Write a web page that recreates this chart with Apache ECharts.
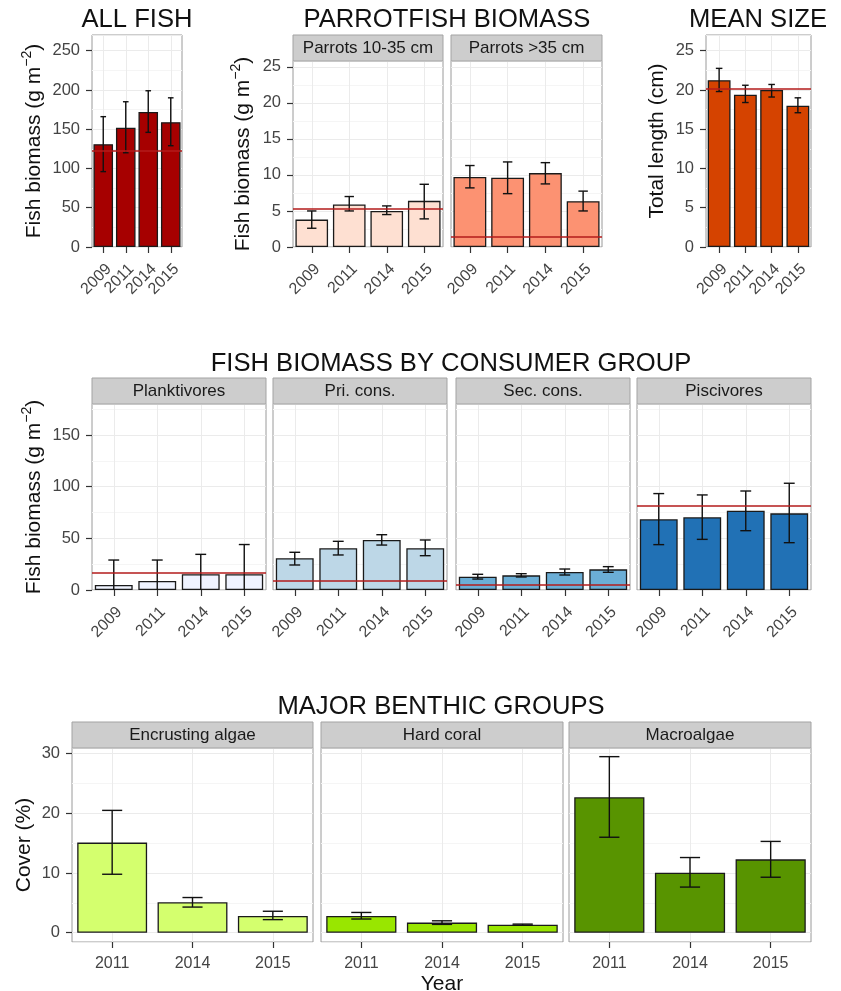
<!DOCTYPE html>
<html>
<head>
<meta charset="utf-8">
<script src="https://cdn.jsdelivr.net/npm/echarts@6/dist/echarts.min.js"></script>
<style>
html,body{margin:0;padding:0;background:#fff;}
#chart{width:841px;height:991px;}
</style>
</head>
<body>
<div id="chart"></div>
<script>
// ---------- DATA ----------
const years4 = ['2009', '2011', '2014', '2015'];
const years3 = ['2011', '2014', '2015'];

// ALL FISH
const allFishMean = [131, 152, 172, 159];
const allFishLo = [96, 120, 146, 129];
const allFishHi = [166, 185, 199, 190];
const allFishRef = 123;

// PARROTFISH BIOMASS
const parrotSmallMean = [3.8, 5.9, 5.0, 6.4];
const parrotSmallLo = [2.6, 5.0, 4.5, 3.9];
const parrotSmallHi = [5.0, 7.0, 5.7, 8.7];
const parrotSmallRef = 5.25;

const parrotLargeMean = [9.7, 9.6, 10.25, 6.35];
const parrotLargeLo = [8.2, 7.4, 8.75, 5.0];
const parrotLargeHi = [11.3, 11.8, 11.7, 7.75];
const parrotLargeRef = 1.45;

// MEAN SIZE
const meanSizeMean = [21.25, 19.4, 20.0, 18.0];
const meanSizeLo = [19.8, 18.4, 19.1, 17.1];
const meanSizeHi = [22.75, 20.6, 20.7, 19.0];
const meanSizeRef = 20.15;

// FISH BIOMASS BY CONSUMER GROUP
const planktMean = [4.8, 8.7, 15.2, 15.2];
const planktLo = [-19, -12, -4, -14];
const planktHi = [29, 29, 34.5, 44];
const planktRef = 16.8;

const priMean = [30.7, 40.4, 48.4, 40.4];
const priLo = [24.2, 33.9, 43.5, 33.2];
const priHi = [36.5, 47.1, 53.5, 48.4];
const priRef = 9.0;

const secMean = [12.9, 14.2, 17.4, 20.0];
const secLo = [10.6, 12.6, 14.5, 17.1];
const secHi = [15.2, 15.8, 20.3, 22.6];
const secRef = 5.5;

const piscMean = [68.4, 70.4, 76.8, 74.2];
const piscLo = [43.9, 49.0, 57.4, 45.8];
const piscHi = [93.3, 92.0, 95.8, 103.3];
const piscRef = 82;

// MAJOR BENTHIC GROUPS
const encrMean = [15.1, 5.1, 2.8];
const encrLo = [9.8, 4.3, 2.2];
const encrHi = [20.5, 5.9, 3.6];

const hardMean = [2.8, 1.7, 1.35];
const hardLo = [2.3, 1.4, 1.25];
const hardHi = [3.4, 2.0, 1.45];

const macroMean = [22.7, 10.05, 12.3];
const macroLo = [16.0, 7.65, 9.3];
const macroHi = [29.5, 12.6, 15.3];

// ---------- STYLE / LAYOUT ----------
const FONT = 'Liberation Sans, Arial, Helvetica, sans-serif';
const LABEL_COLOR = '#444';
const REF_COLOR = '#b31b1b';
const Y_NAME_FISH = 'Fish biomass (g m{sup|\u22122})';

const panels = [
  {cats:years4, mean:allFishMean, lo:allFishLo, hi:allFishHi, ref:allFishRef, color:'#a60000',
   left:92, top:35, width:90, height:212, min:0, max:270, interval:50, rot:true, yName:Y_NAME_FISH, nameGap:44},
  {cats:years4, mean:parrotSmallMean, lo:parrotSmallLo, hi:parrotSmallHi, ref:parrotSmallRef, color:'#fee0d2',
   left:293, top:61, width:150, height:186, min:0, max:25.8, interval:5, rot:true, strip:'Parrots 10-35 cm', yName:Y_NAME_FISH, nameGap:36},
  {cats:years4, mean:parrotLargeMean, lo:parrotLargeLo, hi:parrotLargeHi, ref:parrotLargeRef, color:'#fc9272',
   left:451, top:61, width:151, height:186, min:0, max:25.8, interval:5, rot:true, strip:'Parrots >35 cm'},
  {cats:years4, mean:meanSizeMean, lo:meanSizeLo, hi:meanSizeHi, ref:meanSizeRef, color:'#d54300',
   left:706, top:35, width:105, height:212, min:0, max:27, interval:5, rot:true, yName:'Total length (cm)', nameGap:35},
  {cats:years4, mean:planktMean, lo:planktLo, hi:planktHi, ref:planktRef, color:'#eff3ff',
   left:92, top:404, width:174, height:186, min:0, max:180, interval:50, rot:true, strip:'Planktivores', yName:Y_NAME_FISH, nameGap:44},
  {cats:years4, mean:priMean, lo:priLo, hi:priHi, ref:priRef, color:'#bdd7e7',
   left:273, top:404, width:174, height:186, min:0, max:180, interval:50, rot:true, strip:'Pri. cons.'},
  {cats:years4, mean:secMean, lo:secLo, hi:secHi, ref:secRef, color:'#6baed6',
   left:456, top:404, width:174, height:186, min:0, max:180, interval:50, rot:true, strip:'Sec. cons.'},
  {cats:years4, mean:piscMean, lo:piscLo, hi:piscHi, ref:piscRef, color:'#2171b5',
   left:637, top:404, width:174, height:186, min:0, max:180, interval:50, rot:true, strip:'Piscivores'},
  {cats:years3, mean:encrMean, lo:encrLo, hi:encrHi, ref:null, color:'#d4ff6e',
   left:72, top:748, width:241, height:194, min:-1.55, max:30.95, splitNumber:3, rot:false, strip:'Encrusting algae', yName:'Cover (%)', nameGap:31},
  {cats:years3, mean:hardMean, lo:hardLo, hi:hardHi, ref:null, color:'#99e600',
   left:321, top:748, width:242, height:194, min:-1.55, max:30.95, splitNumber:3, rot:false, strip:'Hard coral', xName:'Year'},
  {cats:years3, mean:macroMean, lo:macroLo, hi:macroHi, ref:null, color:'#589400',
   left:569, top:748, width:242, height:194, min:-1.55, max:30.95, splitNumber:3, rot:false, strip:'Macroalgae'}
];

const titles = [
  {text:'ALL FISH', x:137, y:20},
  {text:'PARROTFISH BIOMASS', x:447, y:20},
  {text:'MEAN SIZE', x:758, y:20},
  {text:'FISH BIOMASS BY CONSUMER GROUP', x:451, y:364},
  {text:'MAJOR BENTHIC GROUPS', x:441, y:707}
];

function errRender(params, api) {
  const cs = params.coordSys;
  const x = api.value(0), lo = api.value(1), hi = api.value(2);
  const pLo = api.coord([x, lo]);
  const pHi = api.coord([x, hi]);
  const bw = api.size([1, 0])[0];
  const half = bw * 0.125;
  const yTop = cs.y, yBot = cs.y + cs.height;
  const st = {stroke:'#111', lineWidth:1.4};
  const children = [];
  const y1 = Math.max(yTop, Math.min(yBot, pHi[1]));
  const y2 = Math.max(yTop, Math.min(yBot, pLo[1]));
  children.push({type:'line', shape:{x1:pLo[0], y1:y1, x2:pLo[0], y2:y2}, style:st});
  if (pHi[1] >= yTop && pHi[1] <= yBot)
    children.push({type:'line', shape:{x1:pHi[0]-half, y1:pHi[1], x2:pHi[0]+half, y2:pHi[1]}, style:st});
  if (pLo[1] >= yTop && pLo[1] <= yBot)
    children.push({type:'line', shape:{x1:pLo[0]-half, y1:pLo[1], x2:pLo[0]+half, y2:pLo[1]}, style:st});
  return {type:'group', children:children};
}

const grids = [], xAxes = [], yAxes = [], series = [], graphics = [];

panels.forEach((p, i) => {
  grids.push({left:p.left, top:p.top, width:p.width, height:p.height, show:true,
              borderColor:'#9a9a9a', borderWidth:1, backgroundColor:'#fff',
              containLabel:false, outerBoundsMode:'none'});
  const xLabel = {show:true, rotate:p.rot ? 45 : 0, margin:p.rot ? 14 : 14,
                  color:LABEL_COLOR, fontSize:16, fontFamily:FONT, interval:0};
  if (p.rot) xLabel.verticalAlign = 'top';
  xAxes.push({
    type:'category', gridIndex:i, data:p.cats,
    axisLine:{show:false, onZero:false},
    axisTick:{show:true, alignWithLabel:true, length:6, lineStyle:{color:'#333', width:1.2}},
    axisLabel:xLabel,
    splitLine:{show:true, alignWithLabel:true, lineStyle:{color:'#ebebeb', width:1}},
    name:p.xName || '', nameLocation:'middle', nameGap:32,
    nameTextStyle:{fontSize:21, fontFamily:FONT, color:'#111'}
  });
  const y = {
    type:'value', gridIndex:i, min:p.min, max:p.max,
    axisLine:{show:false},
    axisTick:{show:!!p.yName, length:6, lineStyle:{color:'#333', width:1.2}},
    axisLabel:{show:!!p.yName, margin:12, color:LABEL_COLOR, fontSize:16.5, fontFamily:FONT,
               showMinLabel:p.min === 0, showMaxLabel:false},
    splitLine:{show:true, lineStyle:{color:'#ebebeb', width:1}},
    minorTick:{show:false, splitNumber:2},
    minorSplitLine:{show:true, lineStyle:{color:'#f5f5f5', width:1}},
    name:p.yName || '', nameLocation:'middle', nameGap:p.nameGap || 40, nameRotate:90,
    nameTextStyle:{fontSize:21, fontFamily:FONT, color:'#111', lineHeight:28,
      rich:{sup:{fontSize:14, fontFamily:FONT, color:'#111', verticalAlign:'top', lineHeight:14}}}
  };
  if (p.interval) y.interval = p.interval; else y.splitNumber = p.splitNumber;
  yAxes.push(y);

  const bar = {
    type:'bar', xAxisIndex:i, yAxisIndex:i, data:p.mean,
    barCategoryGap:'13%',
    itemStyle:{color:p.color, borderColor:'#1a1a1a', borderWidth:1.3},
    emphasis:{disabled:true}, silent:true, z:2
  };
  if (p.ref !== null) {
    bar.markLine = {silent:true, symbol:'none', animation:false,
      label:{show:false}, lineStyle:{color:REF_COLOR, width:1.6, type:'solid'},
      emphasis:{disabled:true}, data:[{yAxis:p.ref}]};
  }
  series.push(bar);
  series.push({
    type:'custom', xAxisIndex:i, yAxisIndex:i, renderItem:errRender,
    data:p.mean.map((m, k) => [k, p.lo[k], p.hi[k]]),
    encode:{x:0, y:[1, 2]}, silent:true, z:4
  });

  if (p.strip) {
    graphics.push({type:'rect', shape:{x:p.left, y:p.top - 26, width:p.width, height:26},
      style:{fill:'#cdcdcd', stroke:'#a3a3a3', lineWidth:1}, z:10, silent:true});
    graphics.push({type:'text', x:p.left + p.width / 2, y:p.top - 13,
      style:{text:p.strip, fill:'#1a1a1a', font:'17px ' + FONT, align:'center', verticalAlign:'middle'}, z:11, silent:true});
  }
});

titles.forEach(t => {
  graphics.push({type:'text', x:t.x, y:t.y,
    style:{text:t.text, fill:'#111', font:'25.6px ' + FONT, align:'center', verticalAlign:'middle'}, z:11, silent:true});
});

const chart = echarts.init(document.getElementById('chart'), null, {renderer:'canvas'});
chart.setOption({
  animation:false,
  backgroundColor:'#fff',
  grid:grids, xAxis:xAxes, yAxis:yAxes, series:series,
  graphic:{elements:graphics}
});
</script>
</body>
</html>
